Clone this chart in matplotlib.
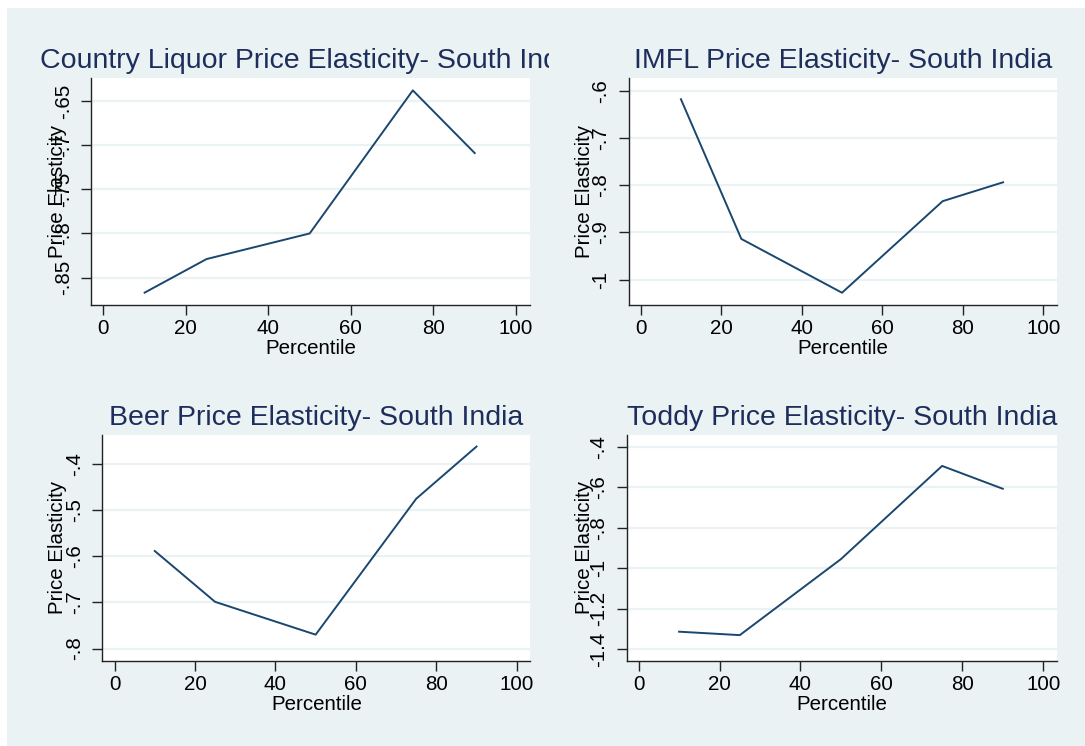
import numpy as np
import matplotlib
matplotlib.use("Agg")
import matplotlib.pyplot as plt
from matplotlib.patches import Rectangle
from matplotlib.transforms import Bbox

plt.rcParams['font.family'] = ['Liberation Sans', 'DejaVu Sans']

# data
percentile = [10, 25, 50, 75, 90]
country_liquor = [-0.867, -0.829, -0.800, -0.638, -0.709]
imfl = [-0.618, -0.914, -1.028, -0.834, -0.794]
beer = [-0.589, -0.699, -0.770, -0.476, -0.363]
toddy = [-1.314, -1.331, -0.955, -0.494, -0.607]

titles = ["Country Liquor Price Elasticity- South India",
          "IMFL Price Elasticity- South India",
          "Beer Price Elasticity- South India",
          "Toddy Price Elasticity- South India"]
x_ticks = [0, 20, 40, 60, 80, 100]
y_ticks = [[-0.85, -0.8, -0.75, -0.7, -0.65],
           [-1.0, -0.9, -0.8, -0.7, -0.6],
           [-0.8, -0.7, -0.6, -0.5, -0.4],
           [-1.4, -1.2, -1.0, -0.8, -0.6, -0.4]]
y_tick_labels = [["-.85", "-.8", "-.75", "-.7", "-.65"],
                 ["-1", "-.9", "-.8", "-.7", "-.6"],
                 ["-.8", "-.7", "-.6", "-.5", "-.4"],
                 ["-1.4", "-1.2", "-1", "-.8", "-.6", "-.4"]]
series = [country_liquor, imfl, beer, toddy]

BG = "#eaf2f3"
NAVY = "#1a476f"
TITLE = "#1e2e5c"
FS = 14.8

W, H = 1085, 746
fig = plt.figure(figsize=(W / 100, H / 100), dpi=100, facecolor="white")
fig.patches.append(Rectangle((7 / W, 0), 1 - 7 / W, 1 - 8 / H, transform=fig.transFigure,
                             facecolor=BG, edgecolor="none", zorder=-10))

# axes boxes in pixels: left, right, top, bottom
boxes = [(91, 530, 78, 305), (628.6, 1057, 78, 305),
         (102.5, 530.4, 435, 661), (626.5, 1057, 435, 661)]
ylims = [(-0.881, -0.624), (-1.054, -0.573), (-0.827, -0.338), (-1.459, -0.341)]
ylabel_x = [-0.077, -0.102, -0.104, -0.098]

for i in range(4):
    l, r, t, b = boxes[i]
    ax = fig.add_axes([l / W, (H - b) / H, (r - l) / W, (b - t) / H])
    ax.set_facecolor("white")
    ax.plot(percentile, series[i], color=NAVY, lw=1.4, zorder=3)
    ax.set_xlim(-3, 103.4)
    ax.set_ylim(*ylims[i])
    ax.set_xticks(x_ticks)
    ax.set_xticklabels([str(v) for v in x_ticks], fontsize=FS)
    ax.set_yticks(y_ticks[i])
    ax.set_yticklabels(y_tick_labels[i], fontsize=FS, rotation=90, va="center")
    ax.tick_params(axis="both", length=7, width=1.0, color="#222222")
    ax.tick_params(axis="x", pad=3)
    ax.tick_params(axis="y", pad=6)
    ax.grid(axis="y", color=BG, lw=1.6, zorder=0)
    ax.set_axisbelow(True)
    for s in ["top", "right"]:
        ax.spines[s].set_visible(False)
    for s in ["left", "bottom"]:
        ax.spines[s].set_color("#222222")
        ax.spines[s].set_linewidth(1.0)
    ax.set_xlabel("Percentile", fontsize=FS, labelpad=0.5)
    ax.set_ylabel("Price Elasticity", fontsize=FS)
    ax.yaxis.set_label_coords(ylabel_x[i], 0.5)
    ax.yaxis.label.set_va("center")
    ttl = ax.set_title(titles[i], fontsize=20.5, color=TITLE, pad=7)
    if i == 0:
        # the long title is cut at the edge of its panel
        ttl.set_clip_box(Bbox([[0, 0], [549, H]]))
        ttl.set_clip_on(True)

fig.savefig("out.png", dpi=100, facecolor="white")
